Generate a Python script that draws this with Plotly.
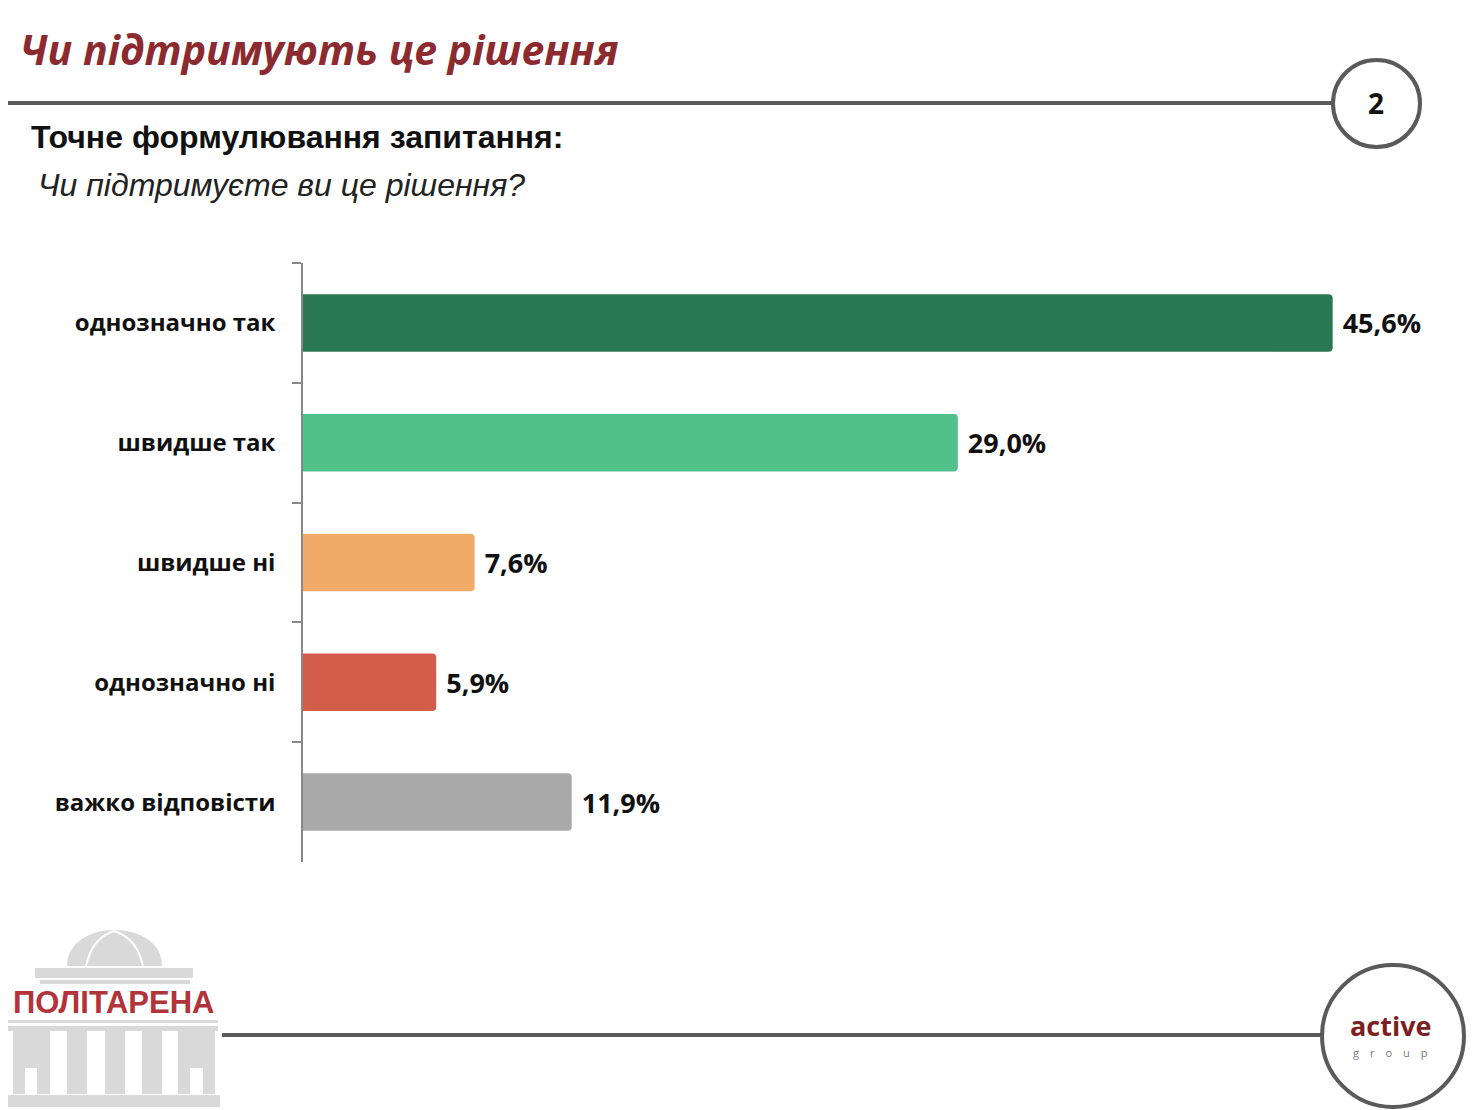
import plotly.graph_objects as go

categories = ["однозначно так", "швидше так", "швидше ні", "однозначно ні", "важко відповісти"]
values = [45.6, 29.0, 7.6, 5.9, 11.9]
value_labels = ["45,6%", "29,0%", "7,6%", "5,9%", "11,9%"]
colors = ["#2a7852", "#52c08a", "#f0ab68", "#d45c4b", "#a9a9a9"]

title_text = "Чи підтримують це рішення"
subtitle_text = "Точне формулювання запитання:"
question_text = "Чи підтримуєте ви це рішення?"
page_number = "2"

OFF = 8  # page offset of the plot div
W, H = 1480, 1110
L, R, T, B = 303 - OFF, 48 + OFF, 263 - OFF, 248 + OFF
PW, PH = W - L - R, H - T - B


def px(x):
    return (x - OFF - L) / PW


def py(y):
    return (H - B - (y - OFF)) / PH


fig = go.Figure(go.Bar(
    x=values, y=categories, orientation="h",
    marker=dict(color=colors, cornerradius=4, line=dict(width=0)),
    text=value_labels, textposition="outside", cliponaxis=False,
    textfont=dict(family="Open Sans", size=27, color="#111111"),
    texttemplate="\u00a0<b>%{text}</b>",
    hoverinfo="skip",
))

shapes = []
line_col = "#5a5a5a"
# top rule and circle
shapes.append(dict(type="line", xref="paper", yref="paper", x0=px(0), x1=px(1333),
                   y0=py(103), y1=py(103), line=dict(color=line_col, width=4)))
shapes.append(dict(type="circle", xref="paper", yref="paper", x0=px(1333), x1=px(1420),
                   y0=py(147), y1=py(60), line=dict(color=line_col, width=4),
                   fillcolor="white"))
# bottom rule and circle
shapes.append(dict(type="line", xref="paper", yref="paper", x0=px(222), x1=px(1322),
                   y0=py(1035), y1=py(1035), line=dict(color=line_col, width=4)))
shapes.append(dict(type="circle", xref="paper", yref="paper", x0=px(1322), x1=px(1464),
                   y0=py(1107), y1=py(965), line=dict(color=line_col, width=4),
                   fillcolor="white"))

# logo (building silhouette)
g = "#d9d9d9"


def rect(x0, y0, x1, y1, col=g):
    shapes.append(dict(type="rect", xref="paper", yref="paper", x0=px(x0), x1=px(x1),
                       y0=py(y1), y1=py(y0), fillcolor=col, line=dict(width=0), layer="below"))


shapes.append(dict(type="path", xref="paper", yref="paper", layer="below",
                   path="M {a},{b} C {a},{d} {e},{d} {e},{b} Z".format(
                       a=px(67), b=py(966), d=py(918), e=px(162)),
                   fillcolor=g, line=dict(width=0)))
shapes.append(dict(type="path", xref="paper", yref="paper", layer="below",
                   path="M {a},{b} Q {c},{d} {e},{f}".format(
                       a=px(86), b=py(966), c=px(92), d=py(938), e=px(114), f=py(931)),
                   line=dict(color="white", width=2)))
shapes.append(dict(type="path", xref="paper", yref="paper", layer="below",
                   path="M {a},{b} Q {c},{d} {e},{f}".format(
                       a=px(143), b=py(966), c=px(137), d=py(938), e=px(114), f=py(931)),
                   line=dict(color="white", width=2)))
rect(35, 968, 193, 978)
rect(40, 980, 190, 984)
rect(8, 1020, 218, 1023)
rect(8, 1026, 218, 1031)
for x0, x1 in [(13, 50), (67, 87), (105, 125), (142, 162), (178, 215)]:
    rect(x0, 1031, x1, 1094)
rect(25, 1068, 37, 1094, "white")
rect(190, 1068, 203, 1094, "white")
rect(8, 1095, 220, 1107)

annotations = [
    dict(text="<b><i>" + title_text + "</i></b>", x=px(18), y=py(49), xref="paper", yref="paper",
         xanchor="left", yanchor="middle", showarrow=False,
         font=dict(family="Open Sans", size=41, color="#8b2b2f")),
    dict(text="<b>" + page_number + "</b>", x=px(1376), y=py(103), xref="paper", yref="paper",
         xanchor="center", yanchor="middle", showarrow=False,
         font=dict(family="Open Sans", size=28, color="#111111")),
    dict(text="<b>" + subtitle_text + "</b>", x=px(29), y=py(137), xref="paper", yref="paper",
         xanchor="left", yanchor="middle", showarrow=False,
         font=dict(family="Liberation Sans", size=32, color="#111111")),
    dict(text="<i>" + question_text + "</i>", x=px(36), y=py(185), xref="paper", yref="paper",
         xanchor="left", yanchor="middle", showarrow=False,
         font=dict(family="Liberation Sans", size=32, color="#222222")),
    dict(text="<b>ПОЛІТАРЕНА</b>", x=px(114), y=py(1002), xref="paper", yref="paper",
         xanchor="center", yanchor="middle", showarrow=False,
         font=dict(family="Liberation Sans", size=31, color="#b3333a")),
    dict(text="<b>active</b>", x=px(1390), y=py(1025), xref="paper", yref="paper",
         xanchor="center", yanchor="middle", showarrow=False,
         font=dict(family="Open Sans", size=27, color="#7a1f24")),
    dict(text="g\u2003r\u2003o\u2003u\u2003p", x=px(1390), y=py(1052), xref="paper", yref="paper",
         xanchor="center", yanchor="middle", showarrow=False,
         font=dict(family="Open Sans", size=11, color="#777777")),
]

fig.update_layout(
    width=W, height=H,
    margin=dict(l=L, r=R, t=T, b=B, pad=0),
    paper_bgcolor="white", plot_bgcolor="white",
    showlegend=False,
    bargap=0.52,
    shapes=shapes,
    annotations=annotations,
    xaxis=dict(range=[0, 50], visible=False, fixedrange=True),
    yaxis=dict(autorange="reversed", type="category", tickson="boundaries",
               ticks="outside", ticklen=9, tickcolor="#888888", tickwidth=1.5,
               showline=True, linecolor="#888888", linewidth=1.5,
               showgrid=False, zeroline=False, ticklabelstandoff=21,
               tickfont=dict(family="Open Sans", size=24, color="#111111"),
               tickprefix="<b>", ticksuffix="</b>"),
)

fig.write_html("out.html")
